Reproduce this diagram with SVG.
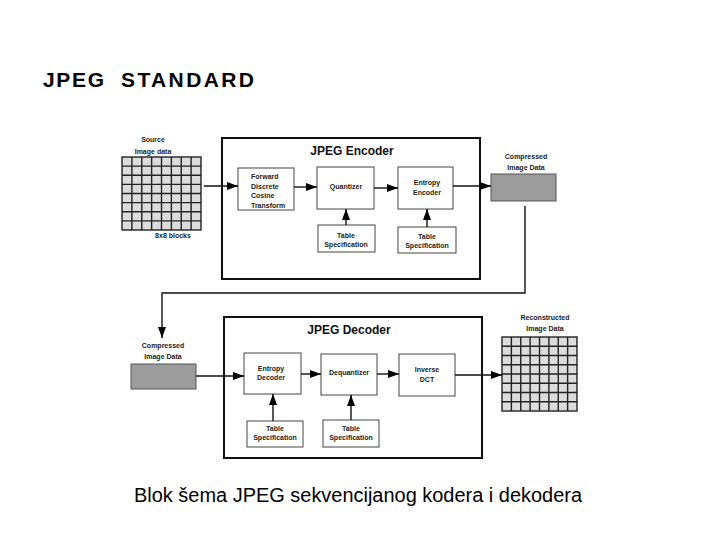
<svg xmlns="http://www.w3.org/2000/svg" width="720" height="540" viewBox="0 0 720 540">
<style>
.t{font-family:"Liberation Sans",Arial,sans-serif;font-size:7px;font-weight:bold;fill:#222;text-anchor:middle}
.tl{text-anchor:start}
.h{font-family:"Liberation Sans",Arial,sans-serif;font-size:12px;font-weight:bold;fill:#111;text-anchor:middle}
.big{font-family:"Liberation Sans",Arial,sans-serif;fill:#000}
.frame{fill:#fff;stroke:#111;stroke-width:2}
.box{fill:#fff;stroke:#444;stroke-width:1}
.grid{fill:#dcdcdc;stroke:#222;stroke-width:1.4}
.comp{fill:#9c9c9c;stroke:#555;stroke-width:1}
.c{fill:none;stroke:#111;stroke-width:1.4}
</style>
<defs>
<marker id="ah" markerUnits="userSpaceOnUse" markerWidth="11" markerHeight="8" refX="11" refY="4" orient="auto">
<path d="M0,0 L11,4 L0,8 z" fill="#000"/>
</marker>
<pattern id="stip" width="4" height="4" patternUnits="userSpaceOnUse">
<rect width="4" height="4" fill="#a8a8a8"/>
<rect x="0" y="0" width="1" height="1" fill="#666"/>
<rect x="2" y="2" width="1" height="1" fill="#666"/>
<rect x="3" y="1" width="1" height="1" fill="#ddd"/>
<rect x="1" y="3" width="1" height="1" fill="#ddd"/>
</pattern>
</defs>
<rect width="720" height="540" fill="#fff"/>

<text class="big" x="43" y="87" font-size="21" font-weight="bold" textLength="61" lengthAdjust="spacing">JPEG</text>
<text class="big" x="121" y="87" font-size="21" font-weight="bold" textLength="133" lengthAdjust="spacing">STANDARD</text>
<text class="big" x="134" y="502" font-size="19.5" textLength="448" lengthAdjust="spacingAndGlyphs">Blok šema JPEG sekvencijanog kodera i dekodera</text>

<g id="encoder">
<rect class="frame" x="222" y="138" width="258" height="141"/>
<text class="h" x="352" y="155">JPEG Encoder</text>
</g>
<g id="decoder">
<rect class="frame" x="224" y="317" width="258" height="141"/>
<text class="h" x="349" y="334">JPEG Decoder</text>
</g>

<g id="source">
<text class="t" x="153" y="142">Source</text>
<text class="t" x="153" y="154">Image data</text>
<rect class="grid" x="122" y="157" width="79" height="73"/>
<path class="grid" fill="none" d="M131.875,157V230M141.75,157V230M151.625,157V230M161.5,157V230M171.375,157V230M181.25,157V230M191.125,157V230M122,166.125H201M122,175.25H201M122,184.375H201M122,193.5H201M122,202.625H201M122,211.75H201M122,220.875H201"/>
<text class="t" x="173" y="238">8x8 blocks</text>
</g>

<g id="fdct">
<rect class="box" x="238" y="168" width="56" height="42"/>
<text class="t tl" x="251" y="179">Forward</text>
<text class="t tl" x="251" y="188.5">Discrete</text>
<text class="t tl" x="251" y="198">Cosine</text>
<text class="t tl" x="251" y="207.5">Transform</text>
</g>
<g id="quantizer">
<rect class="box" x="317" y="167" width="57" height="42"/>
<text class="t" x="346" y="189">Quantizer</text>
</g>
<g id="entropy-encoder">
<rect class="box" x="398" y="167" width="55" height="42"/>
<text class="t" x="427" y="185">Entropy</text>
<text class="t" x="427" y="195">Encoder</text>
</g>
<g id="table-spec-enc-1">
<rect class="box" x="318" y="225" width="57" height="27"/>
<text class="t" x="346" y="238">Table</text>
<text class="t" x="346" y="247">Specification</text>
</g>
<g id="table-spec-enc-2">
<rect class="box" x="398" y="227" width="58" height="26"/>
<text class="t" x="427" y="239">Table</text>
<text class="t" x="427" y="248">Specification</text>
</g>
<g id="compressed-enc">
<text class="t" x="526" y="159">Compressed</text>
<text class="t" x="526" y="170">Image Data</text>
<rect class="comp" fill="url(#stip)" x="491" y="174" width="65" height="27"/>
</g>

<g id="compressed-dec">
<text class="t" x="163" y="348">Compressed</text>
<text class="t" x="163" y="359">Image Data</text>
<rect class="comp" fill="url(#stip)" x="131" y="364" width="65" height="25"/>
</g>
<g id="entropy-decoder">
<rect class="box" x="244" y="353" width="57" height="41"/>
<text class="t" x="271" y="371">Entropy</text>
<text class="t" x="271" y="380">Decoder</text>
</g>
<g id="dequantizer">
<rect class="box" x="321" y="354" width="56" height="41"/>
<text class="t" x="349" y="375">Dequantizer</text>
</g>
<g id="idct">
<rect class="box" x="399" y="354" width="56" height="42"/>
<text class="t" x="427" y="372">Inverse</text>
<text class="t" x="427" y="382">DCT</text>
</g>
<g id="table-spec-dec-1">
<rect class="box" x="247" y="421" width="56" height="26"/>
<text class="t" x="275" y="431">Table</text>
<text class="t" x="275" y="440">Specification</text>
</g>
<g id="table-spec-dec-2">
<rect class="box" x="323" y="420" width="56" height="27"/>
<text class="t" x="351" y="431">Table</text>
<text class="t" x="351" y="440">Specification</text>
</g>
<g id="reconstructed">
<text class="t" x="545" y="320">Reconstructed</text>
<text class="t" x="545" y="331">Image Data</text>
<rect class="grid" x="502" y="337" width="75" height="74"/>
<path class="grid" fill="none" d="M511.375,337V411M520.75,337V411M530.125,337V411M539.5,337V411M548.875,337V411M558.25,337V411M567.625,337V411M502,346.25H577M502,355.5H577M502,364.75H577M502,374H577M502,383.25H577M502,392.5H577M502,401.75H577"/>
</g>

<g id="connectors">
<path class="c" marker-end="url(#ah)" d="M204,186H238"/>
<path class="c" marker-end="url(#ah)" d="M294,187H317"/>
<path class="c" marker-end="url(#ah)" d="M374,188H398"/>
<path class="c" marker-end="url(#ah)" d="M453,186H491"/>
<path class="c" marker-end="url(#ah)" d="M346,225V209"/>
<path class="c" marker-end="url(#ah)" d="M427,227V209"/>
<path class="c" marker-end="url(#ah)" d="M525,206V293H162V338"/>
<path class="c" marker-end="url(#ah)" d="M196,376H244"/>
<path class="c" marker-end="url(#ah)" d="M301,374H321"/>
<path class="c" marker-end="url(#ah)" d="M377,374H399"/>
<path class="c" marker-end="url(#ah)" d="M455,375H502"/>
<path class="c" marker-end="url(#ah)" d="M273,421V394"/>
<path class="c" marker-end="url(#ah)" d="M351,420V395"/>
</g>
</svg>
